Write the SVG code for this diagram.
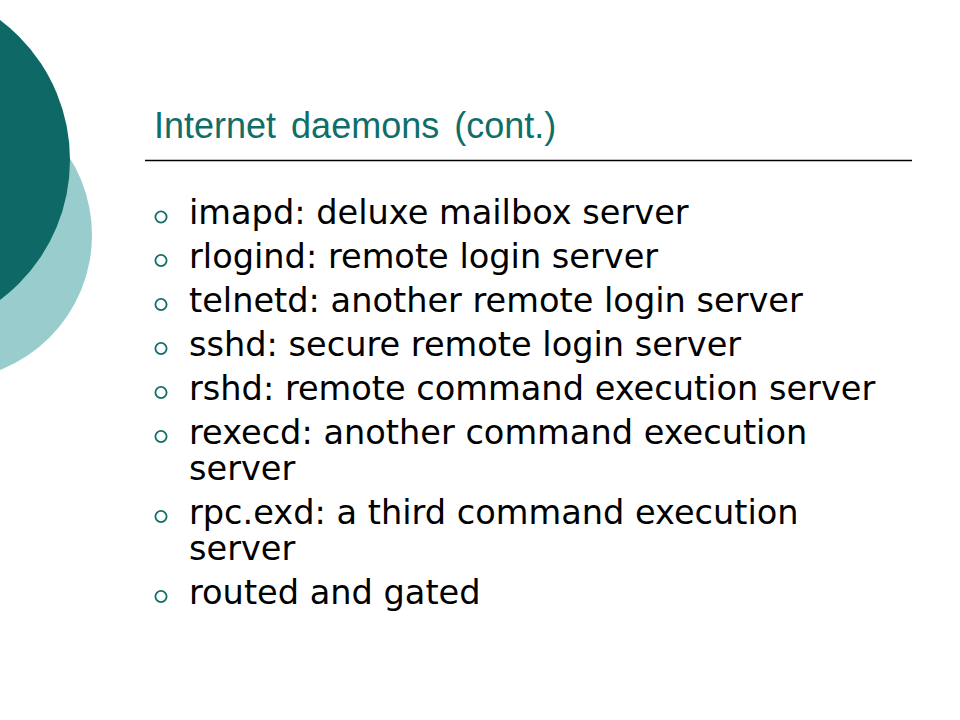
<svg xmlns="http://www.w3.org/2000/svg" width="960" height="720" viewBox="0 0 960 720">
<style>
.title{font-family:"Liberation Sans",Arial,sans-serif;font-size:36px;word-spacing:5px;fill:#0F6E69}
.b{font-family:"DejaVu Sans",Verdana,sans-serif;font-size:33.6px;fill:#000}
.dot{fill:none;stroke:#0F6E69;stroke-width:1.8}
</style>
<rect width="960" height="720" fill="#fff"/>
<g id="decor">
<circle cx="-53" cy="235" r="145" fill="#99CCCC"/>
<circle cx="-105" cy="160" r="175" fill="#0D6866"/>
</g>
<g id="title">
<text class="title" x="154" y="138">Internet daemons (cont.)</text>
<line x1="145" y1="160.5" x2="912" y2="160.5" stroke="#000" stroke-width="1.3"/>
</g>
<g id="bullets">
<circle class="dot" cx="161" cy="217" r="5.6"/>
<text class="b" x="189" y="224">imapd: deluxe mailbox server</text>
<circle class="dot" cx="161" cy="260.5" r="5.6"/>
<text class="b" x="189" y="267.5">rlogind: remote login server</text>
<circle class="dot" cx="161" cy="304.5" r="5.6"/>
<text class="b" x="189" y="311.5">telnetd: another remote login server</text>
<circle class="dot" cx="161" cy="348.5" r="5.6"/>
<text class="b" x="189" y="355.5">sshd: secure remote login server</text>
<circle class="dot" cx="161" cy="392.5" r="5.6"/>
<text class="b" x="189" y="399.5">rshd: remote command execution server</text>
<circle class="dot" cx="161" cy="436.5" r="5.6"/>
<text class="b" x="189" y="443.5">rexecd: another command execution</text>
<text class="b" x="189" y="480">server</text>
<circle class="dot" cx="161" cy="516.5" r="5.6"/>
<text class="b" x="189" y="523.5">rpc.exd: a third command execution</text>
<text class="b" x="189" y="560">server</text>
<circle class="dot" cx="161" cy="596.5" r="5.6"/>
<text class="b" x="189" y="603.5">routed and gated</text>
</g>
</svg>
